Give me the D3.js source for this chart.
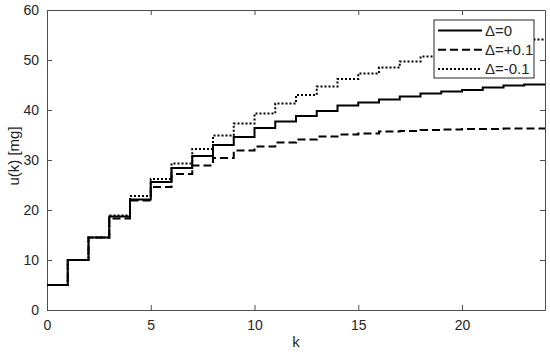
<!DOCTYPE html>
<meta charset="UTF-8">
<style>
  body { margin: 0; background: #fff; }
  text { font-family: "Liberation Sans", Arial, sans-serif; fill: #262626; }
  .series { fill: none; stroke: #000; stroke-width: 2px; }
</style>
<body>
<svg id="chart" width="550" height="355"></svg>
<script src="https://d3js.org/d3.v7.min.js"></script>
<script>
// step index k = 0..23, each value held until k+1
var kSteps = d3.range(0, 24);
var uNominal = [5, 10, 14.5, 18.7, 22.1, 25.6, 28.4, 30.8, 33.0, 34.6, 36.4, 37.7, 38.8, 39.8, 40.9, 41.5, 42.1, 42.7, 43.3, 43.7, 44.0, 44.5, 44.9, 45.1];
var uPlus   = [5, 10, 14.5, 18.3, 21.9, 24.6, 27.2, 28.9, 30.4, 31.9, 32.7, 33.5, 34.1, 34.7, 35.1, 35.3, 35.7, 35.8, 36.0, 36.1, 36.2, 36.2, 36.3, 36.3];
var uMinus  = [5, 10, 14.5, 18.9, 22.8, 26.2, 29.3, 32.2, 34.9, 37.3, 39.3, 41.3, 43.0, 44.7, 46.2, 47.3, 48.5, 49.7, 50.7, 51.5, 52.3, 53.0, 53.6, 54.1];
var legendLabels = ["\u0394=0", "\u0394=+0.1", "\u0394=-0.1"];
var xTicks = [0, 5, 10, 15, 20];
var yTicks = [0, 10, 20, 30, 40, 50, 60];

var margin = {top: 10, right: 5, bottom: 45, left: 47},
    width = 550 - margin.left - margin.right,
    height = 355 - margin.top - margin.bottom;

var svg = d3.select("#chart");
var g = svg.append("g")
    .attr("transform", "translate(" + margin.left + "," + margin.top + ")");

var x = d3.scaleLinear().domain([0, 24]).range([0, width]);
var y = d3.scaleLinear().domain([0, 60]).range([height, 0]);

var axisColor = "#4d4d4d";

// axes (ticks pointing inward, matlab style)
function styleAxis(sel) {
  sel.select(".domain").attr("stroke", axisColor);
  sel.selectAll(".tick line").attr("stroke", axisColor);
  sel.selectAll(".tick text").style("font-size", "14px").attr("fill", "#262626");
}

g.append("g")
    .attr("transform", "translate(0," + height + ")")
    .call(d3.axisBottom(x).tickValues(xTicks).tickSizeInner(-5).tickSizeOuter(0).tickPadding(10))
    .call(styleAxis);

g.append("g")
    .call(d3.axisLeft(y).tickValues(yTicks).tickSizeInner(-5).tickSizeOuter(0).tickPadding(8))
    .call(styleAxis);

g.append("g")
    .call(d3.axisTop(x).tickValues(xTicks).tickSizeInner(-5).tickSizeOuter(0).tickFormat(""))
    .call(styleAxis);

g.append("g")
    .attr("transform", "translate(" + width + ",0)")
    .call(d3.axisRight(y).tickValues(yTicks).tickSizeInner(-5).tickSizeOuter(0).tickFormat(""))
    .call(styleAxis);

// step lines
var line = d3.line()
    .x(function(d) { return x(d.k); })
    .y(function(d) { return y(d.u); })
    .curve(d3.curveStepAfter);

function toPoints(vals) {
  var pts = kSteps.map(function(k, i) { return {k: k, u: vals[i]}; });
  pts.push({k: 24, u: vals[vals.length - 1]});
  return pts;
}

var series = [
  {vals: uNominal, dash: null},
  {vals: uPlus, dash: "8,4"},
  {vals: uMinus, dash: "2,2"}
];

g.append("clipPath").attr("id", "clip")
  .append("rect").attr("width", width).attr("height", height);

g.selectAll("path.series")
  .data(series)
  .enter().append("path")
    .attr("class", "series")
    .attr("clip-path", "url(#clip)")
    .attr("stroke-dasharray", function(d) { return d.dash; })
    .attr("d", function(d) { return line(toPoints(d.vals)); });

// axis labels
svg.append("text")
    .attr("x", margin.left + width / 2)
    .attr("y", 347)
    .attr("text-anchor", "middle")
    .style("font-size", "15px")
    .text("k");

svg.append("text")
    .attr("transform", "translate(19," + (margin.top + height / 2 - 4) + ") rotate(-90)")
    .attr("text-anchor", "middle")
    .style("font-size", "15px")
    .text("u(k) [mg]");

// legend
var legend = svg.append("g").attr("transform", "translate(434,20)");
legend.append("rect")
    .attr("width", 100).attr("height", 58)
    .attr("fill", "#fff").attr("stroke", "#262626").attr("stroke-width", 1);

var items = legend.selectAll("g.item")
  .data(series)
  .enter().append("g")
    .attr("class", "item")
    .attr("transform", function(d, i) { return "translate(0," + (10.5 + i * 19.3) + ")"; });

items.append("line")
    .attr("x1", 4).attr("x2", 48)
    .attr("stroke", "#000").attr("stroke-width", 2)
    .attr("stroke-dasharray", function(d) { return d.dash; });

items.append("text")
    .attr("x", 51).attr("dy", "0.35em")
    .style("font-size", "15px")
    .text(function(d, i) { return legendLabels[i]; });
</script>
</body>
